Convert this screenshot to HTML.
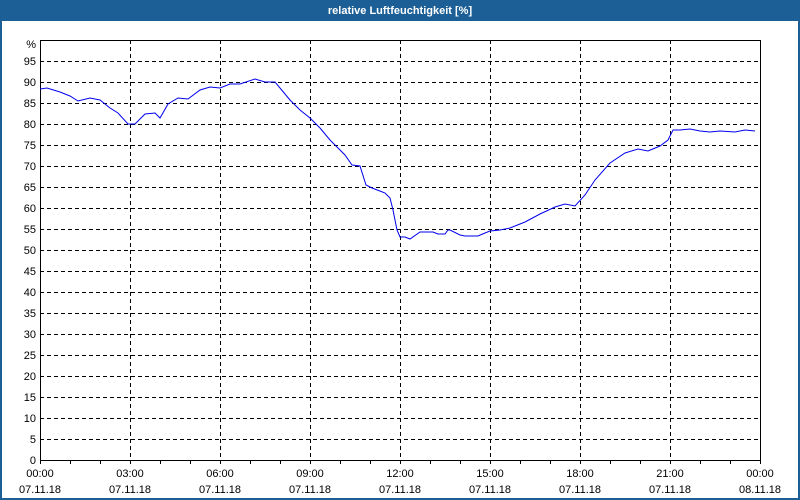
<!DOCTYPE html><html><head><style>body{margin:0;background:#fff}svg{display:block}text{font-family:"Liberation Sans",sans-serif;font-size:11px;fill:#000}</style></head><body>
<svg width="800" height="500" xmlns="http://www.w3.org/2000/svg">
<rect x="0" y="0" width="800" height="500" fill="#1b5f96"/>
<rect x="2" y="21" width="796" height="477" fill="#fff"/>
<text x="400" y="14" text-anchor="middle" style="fill:#fff;font-weight:bold">relative Luftfeuchtigkeit [%]</text>
<g stroke="#000" stroke-dasharray="4,3" stroke-width="1">
<path d="M40 61.5H760M40 82.5H760M40 103.5H760M40 124.5H760M40 145.5H760M40 166.5H760M40 187.5H760M40 208.5H760M40 229.5H760M40 250.5H760M40 271.5H760M40 292.5H760M40 313.5H760M40 334.5H760M40 355.5H760M40 376.5H760M40 397.5H760M40 418.5H760M40 439.5H760"/>
<path d="M130.5 40V460M220.5 40V460M310.5 40V460M400.5 40V460M490.5 40V460M580.5 40V460M670.5 40V460"/>
</g>
<rect x="40.5" y="40.5" width="720" height="420" fill="none" stroke="#000"/>
<g stroke="#000"><path d="M40.5 460v4M70.5 460v4M100.5 460v4M130.5 460v4M160.5 460v4M190.5 460v4M220.5 460v4M250.5 460v4M280.5 460v4M310.5 460v4M340.5 460v4M370.5 460v4M400.5 460v4M430.5 460v4M460.5 460v4M490.5 460v4M520.5 460v4M550.5 460v4M580.5 460v4M610.5 460v4M640.5 460v4M670.5 460v4M700.5 460v4M730.5 460v4M760.5 460v4"/></g>
<g text-anchor="end">
<text x="36" y="48">%</text><text x="36" y="65">95</text><text x="36" y="86">90</text><text x="36" y="107">85</text><text x="36" y="128">80</text><text x="36" y="149">75</text><text x="36" y="170">70</text><text x="36" y="191">65</text><text x="36" y="212">60</text><text x="36" y="233">55</text><text x="36" y="254">50</text><text x="36" y="275">45</text><text x="36" y="296">40</text><text x="36" y="317">35</text><text x="36" y="338">30</text><text x="36" y="359">25</text><text x="36" y="380">20</text><text x="36" y="401">15</text><text x="36" y="422">10</text><text x="36" y="443">5</text><text x="36" y="464">0</text>
</g>
<g text-anchor="middle">
<text x="40" y="477">00:00</text><text x="130" y="477">03:00</text><text x="220" y="477">06:00</text><text x="310" y="477">09:00</text><text x="400" y="477">12:00</text><text x="490" y="477">15:00</text><text x="580" y="477">18:00</text><text x="670" y="477">21:00</text><text x="760" y="477">00:00</text>
<text x="40" y="493">07.11.18</text><text x="130" y="493">07.11.18</text><text x="220" y="493">07.11.18</text><text x="310" y="493">07.11.18</text><text x="400" y="493">07.11.18</text><text x="490" y="493">07.11.18</text><text x="580" y="493">07.11.18</text><text x="670" y="493">07.11.18</text><text x="760" y="493">08.11.18</text>
</g>
<polyline fill="none" stroke="#0000ee" stroke-width="1" points="40,89 47,88 60,92 70,96 78,101 90,98 100,100 110,108 118,113 128,124 135,124 145,114 155,113 160,118 168,104 178,98 188,99 200,90 210,87 220,88 230,84 240,84 255,79 265,82 275,82 290,100 300,110 310,118 320,128 330,140 345,155 352,165 360,166 366,185 372,188 385,193 390,198 393,210 397,230 400,237 405,237 410,239 420,232 433,232 438,234 445,234 448,230 450,230 460,235 465,236 478,236 485,233 490,231 500,230 510,228 525,222 540,214 555,207 565,204 575,206 585,195 595,180 610,163 625,153 638,149 648,151 660,146 668,140 673,130 680,130 690,129 700,131 710,132 720,131 735,132 745,130 755,131"/>
</svg></body></html>
